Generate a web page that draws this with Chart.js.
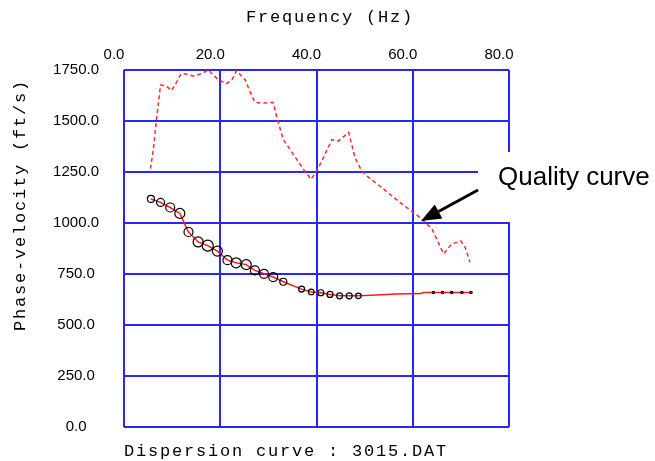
<!DOCTYPE html>
<html>
<head>
<meta charset="utf-8">
<script src="https://cdn.jsdelivr.net/npm/chart.js@4/dist/chart.umd.min.js"></script>
<style>
  body { margin: 0; background: #fff; }
</style>
</head>
<body>
<canvas id="chart" width="655" height="461"></canvas>
<script>
// Dispersion curve: picked points, then the tail of the fitted curve
const freq = [5.6, 7.6, 9.6, 11.6, 13.4, 15.4, 17.4, 19.4, 21.5, 23.3, 25.4, 27.2, 29.1, 31.0, 33.1,
              36.9, 38.9, 40.9, 42.8, 44.8, 46.8, 48.7,
              51.4, 56.7, 61.8, 62.2, 64.3, 66.2, 68.1, 70.2, 72.1];
const velocity = [1118, 1101, 1076, 1047, 956, 907, 889, 862, 818, 805, 796, 768, 751, 735, 712,
                  676, 662, 658, 650, 643, 643, 643,
                  646, 652, 654, 659, 659, 659, 659, 659, 659];

// Quality curve (dashed)
const qualityFreq = [5.5, 6.1, 6.7, 7.6, 8.9, 9.9, 11.0, 11.8, 13.0, 14.4, 16.2, 17.5, 19.3, 21.2, 22.4,
                     23.4, 25.2, 26.2, 27.2, 28.3, 31.0, 31.7, 33.1, 35.2, 37.3, 38.9, 40.4, 41.1, 43.2,
                     44.5, 46.7, 48.0, 49.3, 50.5, 53.2, 57.4, 61.5, 64.0, 66.4, 68.1, 70.0, 70.9, 71.9];
const qualityVelocity = [1266, 1360, 1498, 1677, 1669, 1649, 1693, 1730, 1730, 1720, 1733, 1750, 1709, 1682, 1701,
                         1747, 1701, 1644, 1591, 1588, 1591, 1523, 1409, 1336, 1263, 1215, 1271, 1303, 1409,
                         1401, 1444, 1320, 1260, 1230, 1180, 1100, 1027, 971, 849, 897, 912, 880, 808];

const xTicks = [0, 20, 40, 60, 80];
const yTicks = [0, 250, 500, 750, 1000, 1250, 1500, 1750];

// circle size of each picked point (0 = no marker)
const markerSize = [3.5, 4, 4.5, 5, 4.5, 5, 5.5, 5, 4.5, 5, 5, 4.5, 4.5, 4.5, 3.5,
                    3, 2.8, 3, 3, 3, 3, 2.8,
                    0, 0, 0, 0, 1.2, 1.2, 1.2, 1.2, 1.2];

const mono = '"Liberation Mono", monospace';
const sans = '"Liberation Sans", Arial, sans-serif';

const labelsPlugin = {
    id: 'labels',
    afterDraw(chart) {
        const ctx = chart.ctx;
        ctx.save();
        ctx.fillStyle = '#000';
        ctx.font = '17px ' + mono;
        ctx.letterSpacing = '1.8px';
        ctx.textBaseline = 'middle';

        ctx.textAlign = 'center';
        ctx.fillText('Frequency (Hz)', 330, 17);

        ctx.textAlign = 'left';
        ctx.fillText('Dispersion curve : 3015.DAT', 124, 451);

        ctx.save();
        ctx.translate(20, 205);
        ctx.rotate(-Math.PI / 2);
        ctx.textAlign = 'center';
        ctx.fillText('Phase-velocity (ft/s)', 0, 0);
        ctx.restore();

        // callout box
        ctx.letterSpacing = '0px';
        ctx.fillStyle = '#fff';
        ctx.fillRect(478, 152, 177, 70);
        ctx.fillStyle = '#000';
        ctx.font = '26px ' + sans;
        ctx.textAlign = 'left';
        ctx.fillText('Quality curve', 498, 178);

        // arrow
        const x0 = 478, y0 = 190, x1 = 421, y1 = 221;
        const ang = Math.atan2(y1 - y0, x1 - x0);
        const head = 20, half = 8;
        const bx = x1 - head * Math.cos(ang), by = y1 - head * Math.sin(ang);
        ctx.strokeStyle = '#000';
        ctx.lineWidth = 3;
        ctx.beginPath();
        ctx.moveTo(x0, y0);
        ctx.lineTo(bx, by);
        ctx.stroke();
        ctx.beginPath();
        ctx.moveTo(x1, y1);
        ctx.lineTo(bx + half * Math.sin(ang), by - half * Math.cos(ang));
        ctx.lineTo(bx - half * Math.sin(ang), by + half * Math.cos(ang));
        ctx.closePath();
        ctx.fill();
        ctx.restore();
    }
};

new Chart(document.getElementById('chart'), {
    type: 'scatter',
    data: {
        datasets: [{
            label: 'Quality curve',
            data: qualityFreq.map((f, i) => ({ x: f, y: qualityVelocity[i] })),
            showLine: true,
            borderColor: '#ff2a2a',
            borderWidth: 1.5,
            borderDash: [4, 3],
            pointRadius: 0,
            tension: 0
        }, {
            label: 'Dispersion curve',
            data: freq.map((f, i) => ({ x: f, y: velocity[i] })),
            showLine: true,
            borderColor: '#ff1a1a',
            borderWidth: 1.5,
            pointRadius: markerSize,
            pointBorderColor: '#000',
            pointBackgroundColor: 'rgba(0,0,0,0)',
            pointBorderWidth: 1.2,
            tension: 0
        }]
    },
    options: {
        responsive: false,
        animation: false,
        layout: { padding: { left: 0, top: 0, right: 146, bottom: 32 } },
        plugins: {
            legend: { display: false },
            tooltip: { enabled: false }
        },
        scales: {
            x: {
                type: 'linear',
                position: 'top',
                min: xTicks[0],
                max: xTicks[xTicks.length - 1],
                afterBuildTicks: s => { s.ticks = xTicks.map(v => ({ value: v })); },
                afterFit: s => { s.height = 70; },
                grid: { color: '#2626ff', lineWidth: 2, drawTicks: false },
                border: { display: false },
                ticks: {
                    padding: 6,
                    labelOffset: -10,
                    color: '#000',
                    font: { family: sans, size: 15 },
                    callback: v => v.toFixed(1)
                }
            },
            y: {
                type: 'linear',
                min: yTicks[0],
                max: yTicks[yTicks.length - 1],
                afterBuildTicks: s => { s.ticks = yTicks.map(v => ({ value: v })); },
                afterFit: s => { s.width = 124; },
                grid: { color: '#2626ff', lineWidth: 2, drawTicks: false },
                border: { display: false },
                ticks: {
                    padding: 25,
                    crossAlign: 'center',
                    color: '#000',
                    font: { family: sans, size: 15 },
                    callback: v => v.toFixed(1)
                }
            }
        }
    },
    plugins: [labelsPlugin]
});
</script>
</body>
</html>
